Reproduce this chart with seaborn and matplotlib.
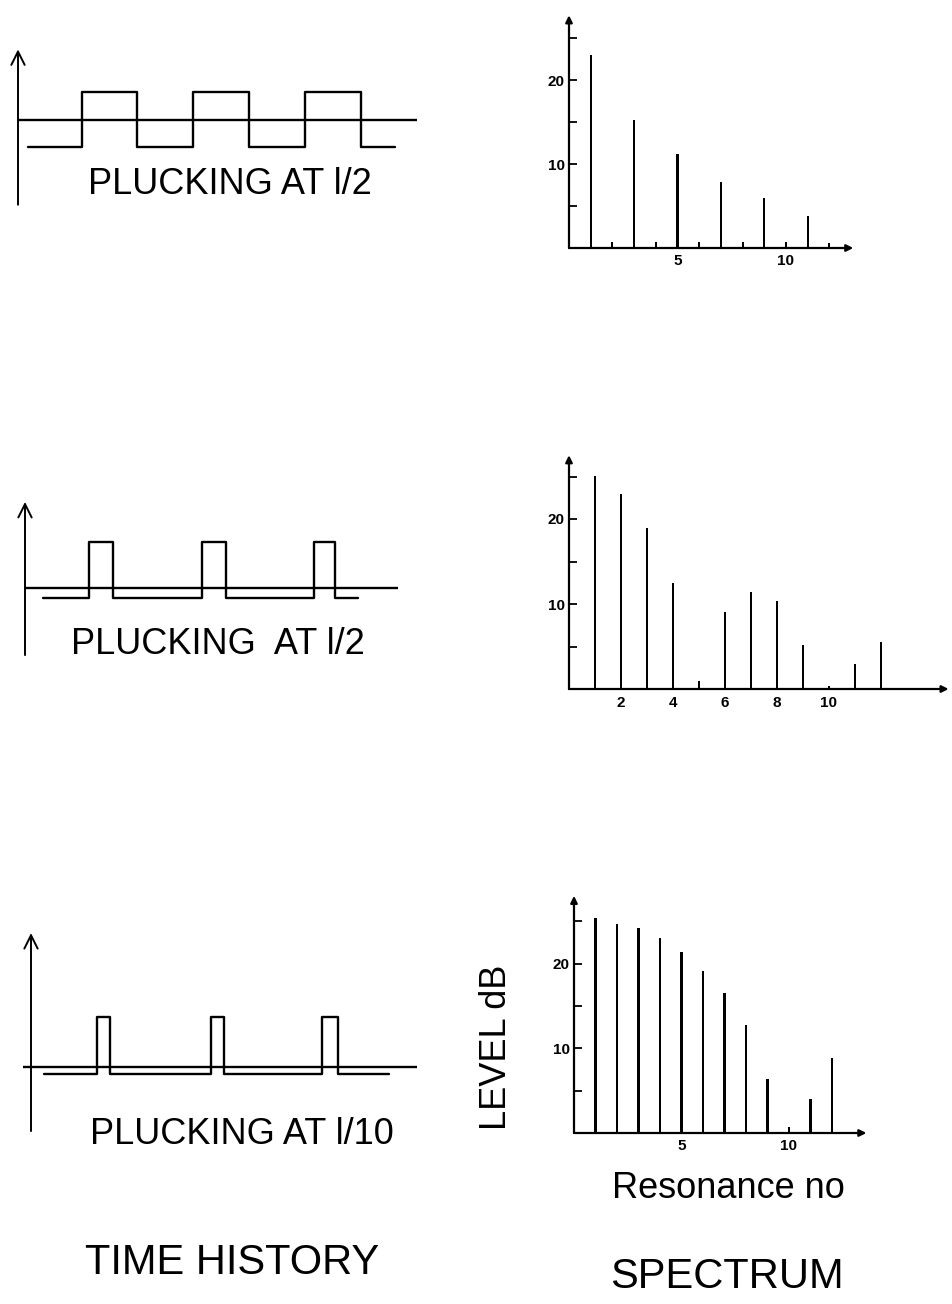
import numpy as np
import pandas as pd
import matplotlib
matplotlib.use("Agg")
import matplotlib.pyplot as plt
import seaborn as sns

sns.set_theme(style="white")
plt.rcParams['font.family'] = ['Liberation Sans', 'DejaVu Sans']

W, H = 953, 1304

# ---------------- data ----------------
# Time histories: switching times (in half-periods) and signal levels
th1_times = [0.18, 1.14, 2.13, 3.13, 4.13, 5.13, 6.13, 6.73]
th1_levels = [-1.0, 1.0, -1.0, 1.0, -1.0, 1.0, -1.0, -1.0]
th2_times = [0.32, 1.14, 1.57, 3.16, 3.59, 5.16, 5.54, 5.95]
th2_levels = [-0.35, 1.66, -0.35, 1.66, -0.35, 1.66, -0.35, -0.35]
th3_times = [0.23, 1.18, 1.41, 3.21, 3.45, 5.20, 5.48, 6.39]
th3_levels = [-0.24, 1.82, -0.24, 1.82, -0.24, 1.82, -0.24, -0.24]
th_titles = ["PLUCKING AT l/2", "PLUCKING  AT l/2", "PLUCKING AT l/10"]

# Spectra: level (dB) for each resonance number
harmonics = list(range(1, 13))
spec1_db = [23.0, 0.7, 15.2, 0.7, 11.1, 0.7, 7.9, 0.7, 5.9, 0.7, 3.8, 0.6]
spec2_db = [25.1, 22.9, 19.0, 12.5, 1.0, 9.1, 11.4, 10.3, 5.2, 0.4, 2.9, 5.5]
spec3_db = [25.3, 24.7, 24.1, 23.0, 21.3, 19.1, 16.4, 12.7, 6.2, 0.7, 3.9, 8.9]
spec_yticks = [5, 10, 15, 20, 25]
spec_ylabels = ["", "10", "", "20", ""]
spec1_xticks = [5, 10]
spec2_xticks = [2, 4, 6, 8, 10]
spec3_xticks = [5, 10]

# ---------------- figure ----------------
fig = plt.figure(figsize=(W / 100, H / 100), dpi=100)
fig.patch.set_facecolor("white")


def add_ax(x0, y0, x1, y1):
    return fig.add_axes([x0 / W, 1 - y1 / H, (x1 - x0) / W, (y1 - y0) / H])


def fig_text(x, y, s, **kw):
    fig.text(x / W, 1 - y / H, s, ha="center", va="center", color="black", **kw)


def time_panel(times, levels, ox, oy, top, bottom, yax, base, title, tpos):
    sx, sy = 56.0, 27.5
    ax = add_ax(0, top, 440, bottom)
    ax.set_axis_off()
    df = pd.DataFrame({"t": times, "v": levels})
    sns.lineplot(data=df, x="t", y="v", ax=ax, color="black", lw=1.7,
                 drawstyle="steps-post", estimator=None, sort=False)
    ax.plot(base, [0, 0], color="black", lw=1.7, solid_capstyle="butt")
    ax.annotate("", xy=(0, yax[1]), xytext=(0, yax[0]),
                arrowprops=dict(arrowstyle="->", lw=1.4, color="black",
                                mutation_scale=24, shrinkA=0, shrinkB=0),
                annotation_clip=False)
    ax.set_xlim((0 - ox) / sx, (440 - ox) / sx)
    ax.set_ylim((oy - bottom) / sy, (oy - top) / sy)
    fig_text(tpos[0], tpos[1], title, fontsize=26)


time_panel(th1_times, th1_levels, 18, 119.5, 40, 215, (-3.1, 2.55), (0, 7.13),
           th_titles[0], (230, 184))
time_panel(th2_times, th2_levels, 25, 588, 490, 665, (-2.44, 3.13), (0, 6.66),
           th_titles[1], (218, 644))
time_panel(th3_times, th3_levels, 31, 1067, 920, 1140, (-2.33, 4.87), (-0.14, 6.89),
           th_titles[2], (242, 1135))


def spec_panel(db, xticks, ox, oy, sx, sy, xend, ytop, xpad):
    ax = add_ax(ox, oy - ytop * sy, ox + xend * sx, oy)
    sns.barplot(x=harmonics, y=db, native_scale=True, width=0.002, color="black",
                errorbar=None, linewidth=1.44, edgecolor="black", saturation=1, ax=ax)
    for p in ax.patches:
        p.set_snap(True)
    for s in ax.spines.values():
        s.set_visible(False)
    ax.set_xlim(0, xend)
    ax.set_ylim(0, ytop)
    ax.annotate("", xy=(xend, 0), xytext=(0, 0),
                arrowprops=dict(arrowstyle="-|>", lw=1.6, color="black",
                                mutation_scale=10, shrinkA=0, shrinkB=0),
                annotation_clip=False)
    ax.annotate("", xy=(0, ytop), xytext=(0, 0),
                arrowprops=dict(arrowstyle="-|>", lw=1.6, color="black",
                                mutation_scale=10, shrinkA=0, shrinkB=0),
                annotation_clip=False)
    ax.set_yticks(spec_yticks)
    ax.set_yticklabels(spec_ylabels)
    ax.set_xticks(xticks)
    ax.set_xticklabels([str(v) for v in xticks])
    ax.tick_params(axis="y", direction="in", length=6, width=1.3, left=True,
                   pad=3, labelsize=11, colors="black")
    ax.tick_params(axis="x", length=0, pad=xpad, labelsize=11, colors="black")
    for lab in ax.get_xticklabels() + ax.get_yticklabels():
        lab.set_fontweight("bold")
    ax.set_xlabel("")
    ax.set_ylabel("")
    ax.grid(False)
    ax.patch.set_alpha(0)


spec_panel(spec1_db, spec1_xticks, 569, 248, 21.7, 8.4, 13.1, 27.7, 4)
spec_panel(spec2_db, spec2_xticks, 569, 689, 26.0, 8.5, 14.6, 27.5, 5)
spec_panel(spec3_db, spec3_xticks, 574, 1133, 21.5, 8.47, 13.6, 28.0, 4)

fig_text(497, 1047, "LEVEL dB", fontsize=26, rotation=90)
fig_text(728, 1188, "Resonance no", fontsize=26)
fig_text(232, 1263, "TIME HISTORY", fontsize=30)
fig_text(727, 1277, "SPECTRUM", fontsize=30)

fig.savefig("out.png", dpi=100, facecolor="white")
